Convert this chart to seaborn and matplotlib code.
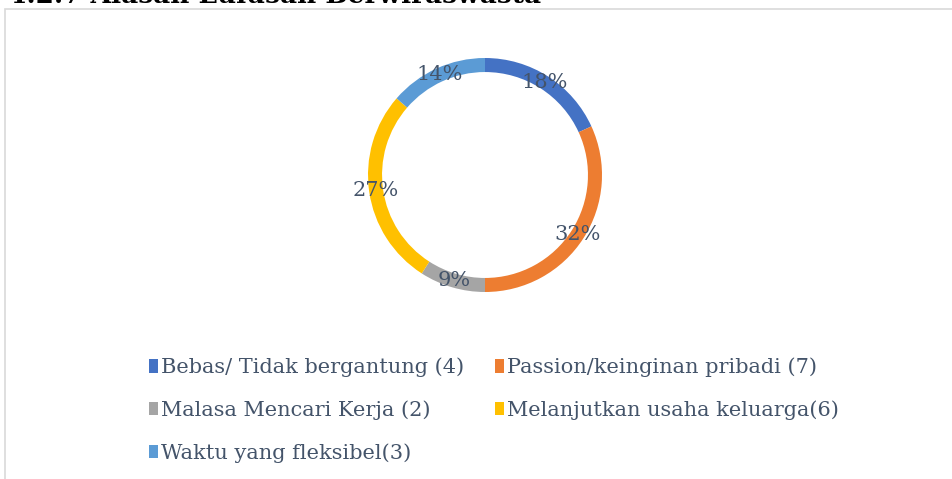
import matplotlib
matplotlib.use("Agg")
import matplotlib.pyplot as plt
from matplotlib.patches import Rectangle, Patch
import numpy as np
import seaborn as sns

categories = ["Bebas/ Tidak bergantung (4)", "Passion/keinginan pribadi (7)",
              "Malasa Mencari Kerja (2)", "Melanjutkan usaha keluarga(6)",
              "Waktu yang fleksibel(3)"]
counts = [4, 7, 2, 6, 3]
pct_labels = ["18%", "32%", "9%", "27%", "14%"]
colors = ["#4472C4", "#ED7D31", "#A5A5A5", "#FFC000", "#5B9BD5"]
title = "4.2.7 Alasan Lulusan Berwiraswasta"

sns.set_theme(style="white")
plt.rcParams['font.family'] = ['DejaVu Serif', 'Liberation Serif']

W, H = 953, 479
fig = plt.figure(figsize=(W / 100, H / 100), dpi=100)
fig.patch.set_facecolor("white")

# frame
top = 1 - 9.5 / H
fig.patches.append(Rectangle((5.5 / W, -0.2), 1.2, top + 0.2, transform=fig.transFigure,
                             fill=False, edgecolor="#D9D9D9", linewidth=1.2))
# clipped title (cut off at the top, as in the reference)
fig.text(8 / W, 1 - 3 / H, title, fontsize=19, fontweight="bold", color="black",
         va="baseline", ha="left")

cx, cy, R = 485, 175, 117
ax = fig.add_axes([(cx - R) / W, (H - cy - R) / H, 2 * R / W, 2 * R / H])
wedges, _ = ax.pie(counts, colors=colors, startangle=90, counterclock=False, radius=1,
                   wedgeprops=dict(width=0.12, edgecolor="none"))
ax.set_xlim(-1, 1)
ax.set_ylim(-1, 1)
ax.set_aspect("equal")
ax.axis("off")

total = sum(counts)
start = 90.0
for c, lab in zip(counts, pct_labels):
    ang = start - 360 * c / total / 2
    start -= 360 * c / total
    r = 0.94
    ax.text(r * np.cos(np.radians(ang)), r * np.sin(np.radians(ang)), lab,
            ha="center", va="center", fontsize=15, color="#44546A", clip_on=False)

order = [0, 2, 4, 1, 3]
handles = [Patch(facecolor=colors[i], edgecolor="none") for i in order]
labels = [categories[i] for i in order]
fig.legend(handles, labels, ncol=2, loc="upper left",
           bbox_to_anchor=(130 / W, 1 - 339 / H), frameon=False,
           fontsize=15, labelcolor="#44546A", handlelength=0.45, handleheight=0.6,
           handletextpad=0.15, columnspacing=1.45, labelspacing=1.1)

fig.savefig("out.png", dpi=100, facecolor="white")
